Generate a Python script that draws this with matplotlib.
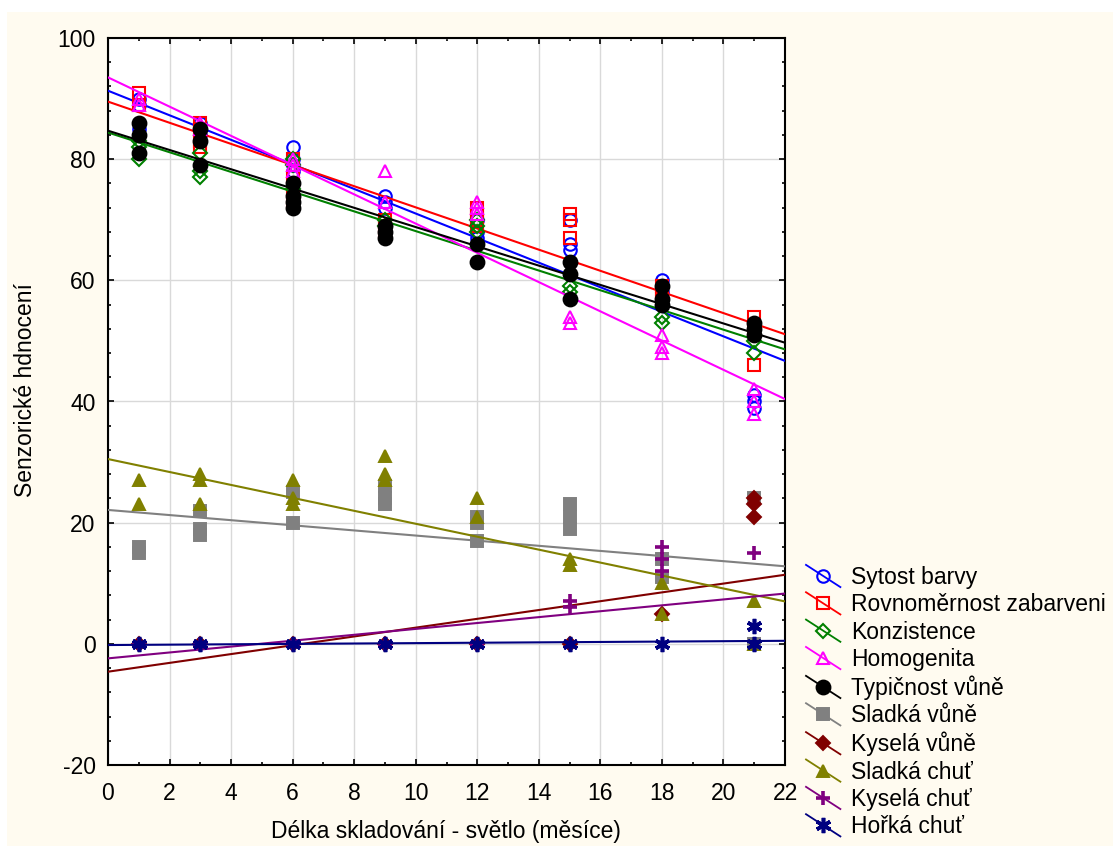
import numpy as np
import matplotlib
matplotlib.use('Agg')
import matplotlib.pyplot as plt
from matplotlib.lines import Line2D
from matplotlib.legend_handler import HandlerLine2D
from matplotlib.patches import Rectangle

plt.rcParams['font.family'] = ['Liberation Sans', 'DejaVu Sans']
plt.rcParams['axes.unicode_minus'] = False

# storage time (months) of each sample group
months = [1, 3, 6, 9, 12, 15, 18, 21]

names = ['Sytost barvy', 'Rovnoměrnost zabarveni', 'Konzistence', 'Homogenita',
         'Typičnost vůně', 'Sladká vůně', 'Kyselá vůně', 'Sladká chuť',
         'Kyselá chuť', 'Hořká chuť']

# scores at each month
sytost = [[90, 89, 86, 85], [86, 85, 84, 83], [82, 80, 79, 78], [74, 73, 72],
          [70, 68, 67], [70, 66, 65], [60, 58, 57], [41, 40, 39]]
rovnomernost = [[91, 89], [86, 85, 83, 82], [80, 77, 75, 73], [70, 69, 68],
                [72, 71, 70, 69], [71, 70, 67], [59, 58, 57], [54, 52, 46]]
konzistence = [[83, 82, 80], [81, 78, 77], [80, 79, 75], [70, 69],
               [70, 69, 68], [59, 58], [54, 53], [50, 48]]
homogenita = [[90, 89], [86, 85], [80, 79, 78], [78, 73],
              [73, 72, 71], [54, 53], [51, 49, 48], [42, 40, 38]]
typicnost = [[86, 84, 81], [85, 83, 79], [76, 74, 73, 72], [69, 68, 67],
             [66, 63], [63, 61, 57], [59, 57, 56], [53, 52, 51]]
sladka_vune = [[16, 15], [22, 19, 18], [25, 20], [26, 24, 23],
               [21, 20, 17], [23, 21, 19], [14, 11], [24, 0]]
kysela_vune = [[0], [0], [0], [0], [0], [0], [5], [24, 23, 21]]
sladka_chut = [[27, 23], [28, 27, 23], [27, 24, 23], [31, 28, 27],
               [24, 21], [14, 13], [10, 5], [7, 0]]
kysela_chut = [[0], [0], [0], [0], [0], [7, 6], [16, 14, 12], [15]]
horka_chut = [[0], [0], [0], [0], [0], [0], [0], [3, 0]]

# fitted line values at x = 0 and x = 22
fit_start = [91.3, 89.5, 84.4, 93.5, 84.7, 22.1, -4.6, 30.5, -2.4, -0.2]
fit_end = [46.7, 51.1, 48.6, 40.4, 49.7, 12.8, 11.4, 7.0, 8.3, 0.5]

series = [sytost, rovnomernost, konzistence, homogenita, typicnost,
          sladka_vune, kysela_vune, sladka_chut, kysela_chut, horka_chut]
colors = ['#0000ff', '#ff0000', '#008000', '#ff00ff', '#000000',
          '#808080', '#800000', '#808000', '#800080', '#000080']
markers = ['o', 's', 'D', '^', 'o', 's', 'D', '^', '+', (6, 2, 0)]
filled = [False, False, False, False, True, True, True, True, True, True]
msizes = [9, 9, 7, 8.5, 10, 9, 7.5, 9, 10, 11]
medges = [1.5, 1.5, 1.5, 1.5, 1.4, 1.4, 1.4, 1.4, 2.6, 2.6]
FS = 16.5


class DiagHandler(HandlerLine2D):
    def create_artists(self, legend, orig_handle, xdescent, ydescent,
                       width, height, fontsize, trans):
        x0, x1 = -xdescent, -xdescent + width
        yc = -ydescent + height / 2
        ln = Line2D([x0, x1], [yc + 8, yc - 8], color=orig_handle.get_color(), lw=1.3)
        mk = Line2D([(x0 + x1) / 2], [yc], linestyle='none',
                    marker=orig_handle.get_marker(),
                    markersize=orig_handle.get_markersize(),
                    markerfacecolor=orig_handle.get_markerfacecolor(),
                    markeredgecolor=orig_handle.get_markeredgecolor(),
                    markeredgewidth=orig_handle.get_markeredgewidth())
        ln.set_transform(trans)
        mk.set_transform(trans)
        return [ln, mk]


fig = plt.figure(figsize=(11.13, 8.46), dpi=100, facecolor='white')
fig.patches.append(Rectangle((7 / 1113, 0), 1, (846 - 12) / 846, transform=fig.transFigure,
                             facecolor='#fffbf0', edgecolor='none', zorder=-10))
ax = fig.add_axes([108 / 1113, (846 - 765) / 846, (785 - 108) / 1113, (765 - 38) / 846])
ax.set_facecolor('white')

xx = np.array([0, 22])
handles = []
for i, s in enumerate(series):
    px = [m for m, vals in zip(months, s) for v in vals]
    py = [v for vals in s for v in vals]
    mfc = colors[i] if filled[i] else 'none'
    ax.plot(px, py, linestyle='none', marker=markers[i], markersize=msizes[i],
            markerfacecolor=mfc, markeredgecolor=colors[i], markeredgewidth=medges[i],
            zorder=3 + i * 0.1)
    ax.plot(xx, [fit_start[i], fit_end[i]], color=colors[i], lw=1.5, zorder=3.05 + i * 0.1)
    handles.append(Line2D([], [], color=colors[i], marker=markers[i], markersize=msizes[i],
                          markerfacecolor=mfc, markeredgecolor=colors[i],
                          markeredgewidth=medges[i]))

ax.set_xlim(0, 22)
ax.set_ylim(-20, 100)
ax.set_xticks(np.arange(0, 23, 2))
ax.set_xticks(np.arange(0, 23, 1), minor=True)
ax.set_yticks(np.arange(-20, 101, 20))
ax.set_yticks(np.arange(-20, 101, 4), minor=True)
ax.grid(True, which='major', color='#d9d9d9', lw=1)
ax.set_axisbelow(True)
ax.tick_params(which='both', direction='in', top=True, right=True, color='black')
ax.tick_params(which='major', length=4, width=1.2, labelsize=FS)
ax.tick_params(axis='x', which='major', pad=12)
ax.tick_params(axis='y', which='major', pad=9)
ax.tick_params(which='minor', length=2.5, width=1.2)
for sp in ax.spines.values():
    sp.set_linewidth(1.5)

fig.text(26 / 1113, (846 - 390) / 846, 'Senzorické hdnocení', rotation=90,
         ha='center', va='center', fontsize=FS)
fig.text(446 / 1113, (846 - 831) / 846, 'Délka skladování - světlo (měsíce)',
         ha='center', va='center', fontsize=FS)

leg = fig.legend(handles, names, loc='upper left', bbox_to_anchor=(806 / 1113, (846 - 566) / 846),
                 frameon=False, fontsize=FS, handlelength=1.5, handletextpad=0.48,
                 labelspacing=0.19, borderpad=0, borderaxespad=0,
                 handler_map={Line2D: DiagHandler()})

fig.savefig('out.png', dpi=100, facecolor=fig.get_facecolor())
